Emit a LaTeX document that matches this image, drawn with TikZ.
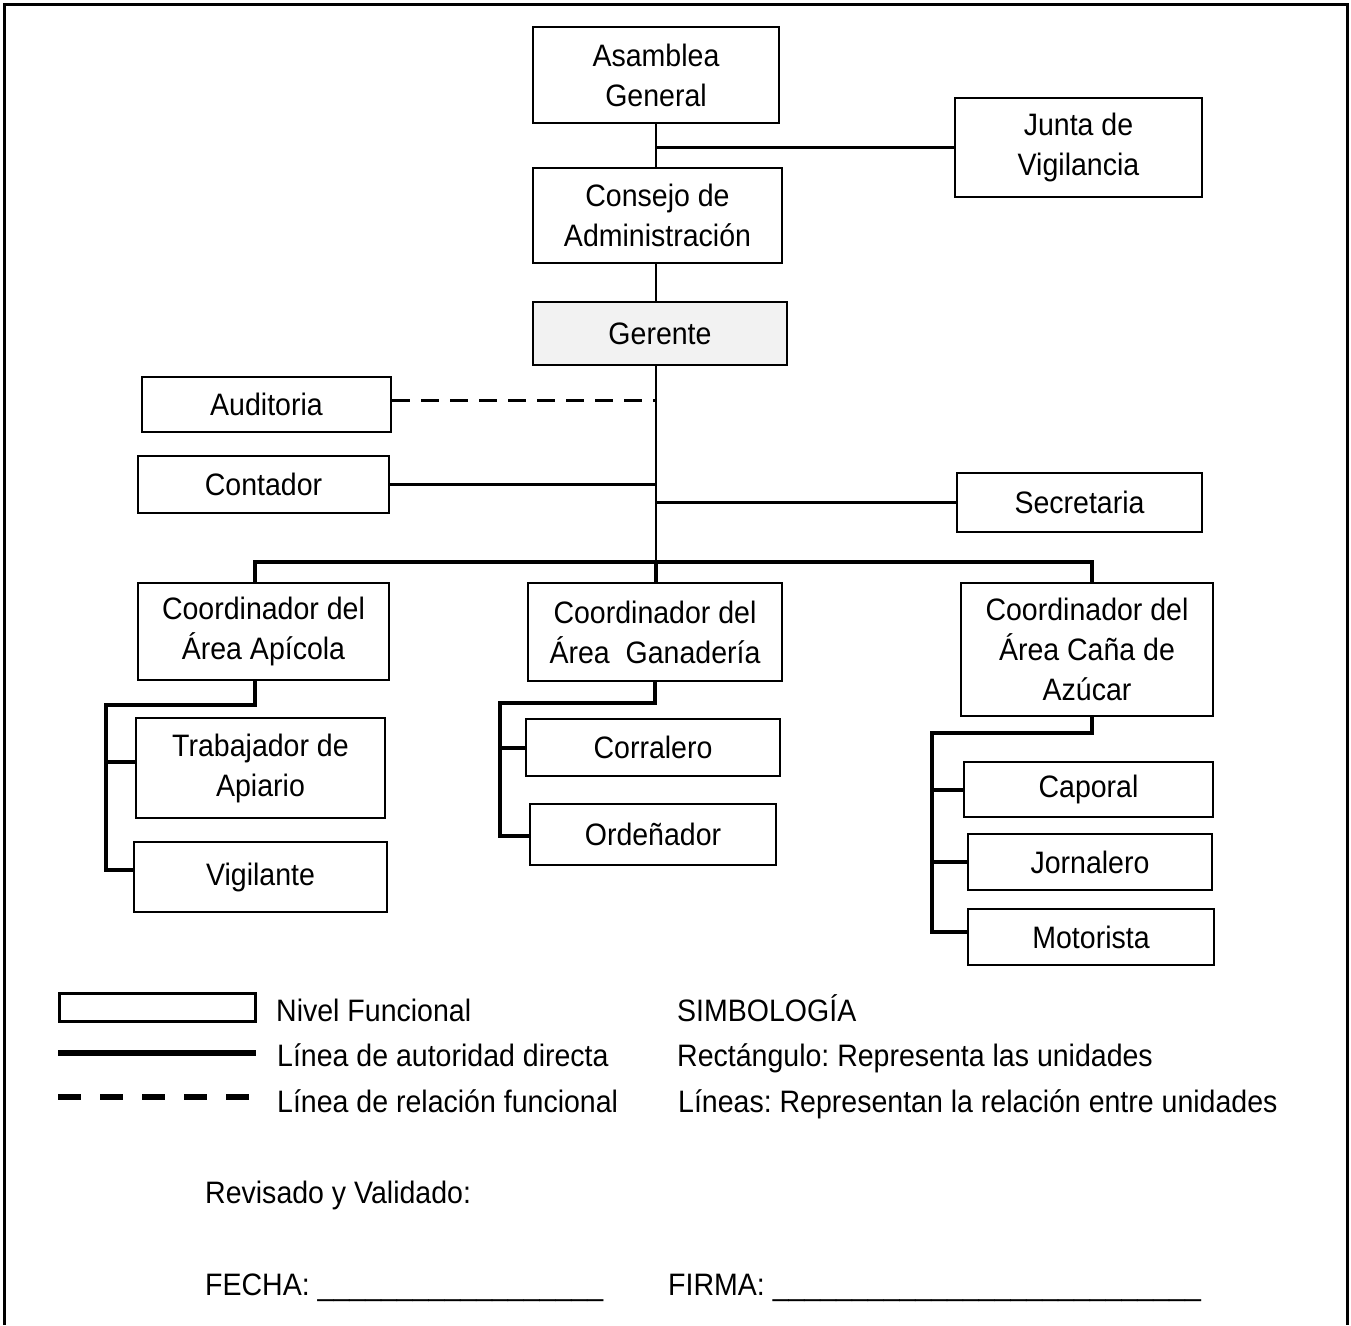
\documentclass[tikz,border=0pt]{standalone}
\usepackage{fontspec}
\setmainfont[FakeStretch=0.92]{Liberation Sans}
\newcommand\orgfont{\fontsize{31}{40}\selectfont}
\frenchspacing
\begin{document}
\begin{tikzpicture}[x=1pt,y=-1pt,
  box/.style={draw,line width=2.6pt,rectangle,align=center,inner sep=2pt,font=\orgfont},
  conn/.style={line width=2.8pt},
  funcconn/.style={line width=3pt,dash pattern=on 18pt off 11pt},
  bus/.style={line width=4.5pt,line join=miter},
  sub/.style={line width=4pt,line join=miter},
  txt/.style={anchor=base west,inner sep=0pt,font=\orgfont},
  frameline/.style={line width=3pt}]
\useasboundingbox (0,0) rectangle (1351,1325);
\fill[white] (0,0) rectangle (1351,1325);
\draw[frameline] (4,1325) -- (4,4) -- (1347,4) -- (1347,1325);

% boxes
\node[box,minimum width=246,minimum height=96] (ag) at (656,75) {Asamblea\\General};
\node[box,minimum width=247,minimum height=99] (jv) at (1078.5,147.5) {Junta de\\Vigilancia};
\node[box,minimum width=249,minimum height=95] (cons) at (657.5,215.5) {Consejo de\\Administración};
\node[box,fill=black!5,minimum width=254,minimum height=63] (ger) at (660,333.5) {Gerente};
\node[box,minimum width=249,minimum height=55] (aud) at (266.5,404.5) {Auditoria};
\node[box,minimum width=251,minimum height=57] (cont) at (263.5,484.5) {Contador};
\node[box,minimum width=245,minimum height=59] (sec) at (1079.5,502.5) {Secretaria};
\node[box,minimum width=251,minimum height=97] (apic) at (263.5,631.5) {Coordinador del\\Área Apícola};
\node[box,minimum width=254,minimum height=98] (gan) at (655,632) {Coordinador del\\Área\ \ Ganadería};
\node[box,minimum width=252,minimum height=133] (cana) at (1087,649.5) {Coordinador del\\Área Caña de\\Azúcar};
\node[box,minimum width=249,minimum height=100] (trab) at (260.5,768) {Trabajador de\\Apiario};
\node[box,minimum width=253,minimum height=70] (vig) at (260.5,877) {Vigilante};
\node[box,minimum width=254,minimum height=57] (corr) at (653,747.5) {Corralero};
\node[box,minimum width=246,minimum height=61] (ord) at (653,834.5) {Ordeñador};
\node[box,minimum width=249,minimum height=55] (cap) at (1088.5,789.5) {Caporal};
\node[box,minimum width=244,minimum height=56] (jor) at (1090,862) {Jornalero};
\node[box,minimum width=246,minimum height=56] (mot) at (1091,937) {Motorista};

% helper coordinates
\coordinate (sp) at (656,0);
\coordinate (jc) at (656,562);
\coordinate (dA) at (255,562);
\coordinate (dC) at (1092,562);
\coordinate (a1) at (255,705);
\coordinate (a2) at (106,705);
\coordinate (a3) at (106,870);
\coordinate (bT) at (0,762);
\coordinate (g1) at (655,703);
\coordinate (g2) at (500,703);
\coordinate (g3) at (500,836);
\coordinate (c1) at (1092,733);
\coordinate (c2) at (932,733);
\coordinate (c3) at (932,932);

% top connectors
\draw[conn] (ag.south -| sp) -- (cons.north -| sp);
\draw[conn] (jv.west) -- (jv.west -| sp);
\draw[conn] (cons.south -| sp) -- (ger.north -| sp);
\draw[conn] (ger.south -| sp) -- (jc);
\draw[funcconn] ([yshift=4pt]aud.east) -- ([yshift=4pt]aud.east -| sp);
\draw[conn] (cont.east) -- (cont.east -| sp);
\draw[conn] (sec.west) -- (sec.west -| sp);

% bus
\draw[bus] (apic.north -| dA) -- (dA) -- (dC) -- (cana.north -| dC);
\draw[bus] (jc) -- (gan.north -| jc);

% apicola subtree
\draw[sub] (apic.south -| dA) -- (a1) -- (a2) -- (a3) -- (vig.west |- a3);
\draw[sub] (a2 |- bT) -- (trab.west |- bT);
% ganaderia subtree
\draw[sub] (gan.south -| g1) -- (g1) -- (g2) -- (g3) -- (ord.west |- g3);
\draw[sub] (g2 |- corr.west) -- (corr.west);
% cana subtree
\draw[sub] (cana.south -| c1) -- (c1) -- (c2) -- (c3) -- (mot.west |- c3);
\draw[sub] (c2 |- cap.west) -- (cap.west);
\draw[sub] (c2 |- jor.west) -- (jor.west);

% legend
\node[draw,line width=3pt,minimum width=196,minimum height=28,inner sep=0pt] (lrect) at (157,1007) {};
\coordinate (l1a) at (58,1053);
\coordinate (l1b) at (256,1053);
\coordinate (l2a) at (58,1097);
\coordinate (l2b) at (256,1097);
\draw[line width=6pt] (l1a) -- (l1b);
\draw[line width=6pt,dash pattern=on 23pt off 19pt] (l2a) -- (l2b);

\node[txt] (t1) at (276,1021) {Nivel Funcional};
\node[txt] (t2) at (277,1066) {Línea de autoridad directa};
\node[txt] (t3) at (277,1112) {Línea de relación funcional};
\node[txt] (t4) at (677,1021) {SIMBOLOGÍA};
\node[txt] (t5) at (677,1066) {Rectángulo: Representa las unidades};
\node[txt] (t6) at (678,1112) {Líneas: Representan la relación entre unidades};
\node[txt] (t7) at (205,1203) {Revisado y Validado:};
\node[txt] (t8) at (205,1295) {FECHA: \_\_\_\_\_\_\_\_\_\_\_\_\_\_\_\_\_\_};
\node[txt] (t9) at (668,1295) {FIRMA: \_\_\_\_\_\_\_\_\_\_\_\_\_\_\_\_\_\_\_\_\_\_\_\_\_\_\_};
\end{tikzpicture}
\end{document}
